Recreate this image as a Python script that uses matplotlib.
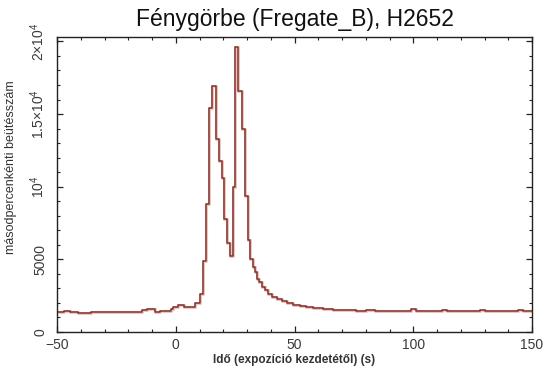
import matplotlib
matplotlib.use("Agg")
import matplotlib.pyplot as plt
from matplotlib.ticker import FixedLocator, MultipleLocator

plt.rcParams["font.family"] = ["Liberation Sans", "DejaVu Sans"]
plt.rcParams["mathtext.default"] = "regular"

# step start times (s) and count rate
step_t = [
    -50.0, -47.0, -44.5, -41.0, -39.6, -38.0, -35.5, -33.0, -31.0, -29.0,
    -27.0, -25.5, -14.2, -12.0, -8.6, -6.5, -4.0, -2.0, -1.0, 1.1,
    2.5, 3.5, 8.1, 10.2, 11.6, 12.7, 14.1, 15.2, 17.0, 18.2,
    19.3, 20.3, 21.7, 22.8, 24.0, 25.1, 26.3, 27.9, 29.2, 30.3,
    31.3, 32.4, 33.4, 34.1, 35.2, 36.2, 37.6, 39.0, 40.4, 42.5,
    44.6, 46.7, 49.5, 52.3, 55.0, 57.9, 62.0, 66.0, 70.0, 73.0,
    76.0, 80.0, 84.0, 88.0, 92.0, 96.0, 99.0, 101.0, 104.0, 108.0,
    112.0, 114.0, 116.0, 120.0, 124.0, 128.0, 130.0, 134.0, 138.0, 142.0,
    144.0, 146.0, 150.0,
]
rate = [
    1380, 1430, 1400, 1340, 1280, 1330, 1390, 1350, 1380, 1410,
    1380, 1350, 1540, 1590, 1360, 1420, 1460, 1550, 1700, 1880,
    1850, 1720, 2000, 2650, 4900, 8800, 15400, 16900, 13300, 11800,
    10600, 7750, 6150, 5250, 10000, 19600, 16600, 14000, 9350, 6300,
    5000, 4440, 4100, 3670, 3420, 3080, 2860, 2590, 2400, 2240,
    2100, 1990, 1880, 1770, 1700, 1630, 1580, 1540, 1500, 1530,
    1480, 1500, 1470, 1460, 1470, 1480, 1560, 1470, 1450, 1480,
    1530, 1470, 1450, 1480, 1460, 1520, 1450, 1470, 1440, 1460,
    1510, 1450, 1450,
]

y_ticks = [0, 5000, 10000, 15000, 20000]
y_tick_labels = ["0", "5000", "$10^4$", "$1.5{\\times}10^4$", "$2{\\times}10^4$"]
x_ticks = [-50, 0, 50, 100, 150]
x_tick_labels = ["\u221250", "0", "50", "100", "150"]

fig = plt.figure(figsize=(5.45, 3.72), dpi=100)
ax = fig.add_axes([0.1046, 0.1075, 0.8716, 0.793])

ax.step(step_t, rate, where="post", color="#f2c4be", linewidth=2.2)
ax.step(step_t, rate, where="post", color="#80352f", linewidth=1.1)

ax.set_xlim(-50, 150)
ax.set_ylim(0, 20300)

ax.xaxis.set_major_locator(FixedLocator(x_ticks))
ax.set_xticklabels(x_tick_labels)
ax.xaxis.set_minor_locator(MultipleLocator(10))
ax.yaxis.set_major_locator(FixedLocator(y_ticks))
ax.set_yticklabels(y_tick_labels, rotation=90, va="center")
ax.yaxis.set_minor_locator(MultipleLocator(1000))

ax.tick_params(which="both", direction="in", top=True, right=True, color="#222222")
ax.tick_params(which="major", length=4.5, width=0.9)
ax.tick_params(which="minor", length=2.5, width=0.8)
ax.tick_params(axis="x", labelsize=10, pad=4, labelcolor="#3a3a3a")
ax.tick_params(axis="y", labelsize=10, pad=7, labelcolor="#3a3a3a")
for sp in ax.spines.values():
    sp.set_color("#222222")
    sp.set_linewidth(1.0)

ax.set_title("Fénygörbe (Fregate_B), H2652", fontsize=16.5, pad=8, color="#111111")
ax.set_xlabel("Idő (expozíció kezdetétől) (s)", fontsize=8.5, fontweight="bold",
              color="#333333", labelpad=2)
ax.set_ylabel("másodpercenkénti beütésszám", fontsize=9, color="#333333")
ax.yaxis.set_label_coords(-0.084, 0.56)

fig.savefig("out.png", dpi=100)
